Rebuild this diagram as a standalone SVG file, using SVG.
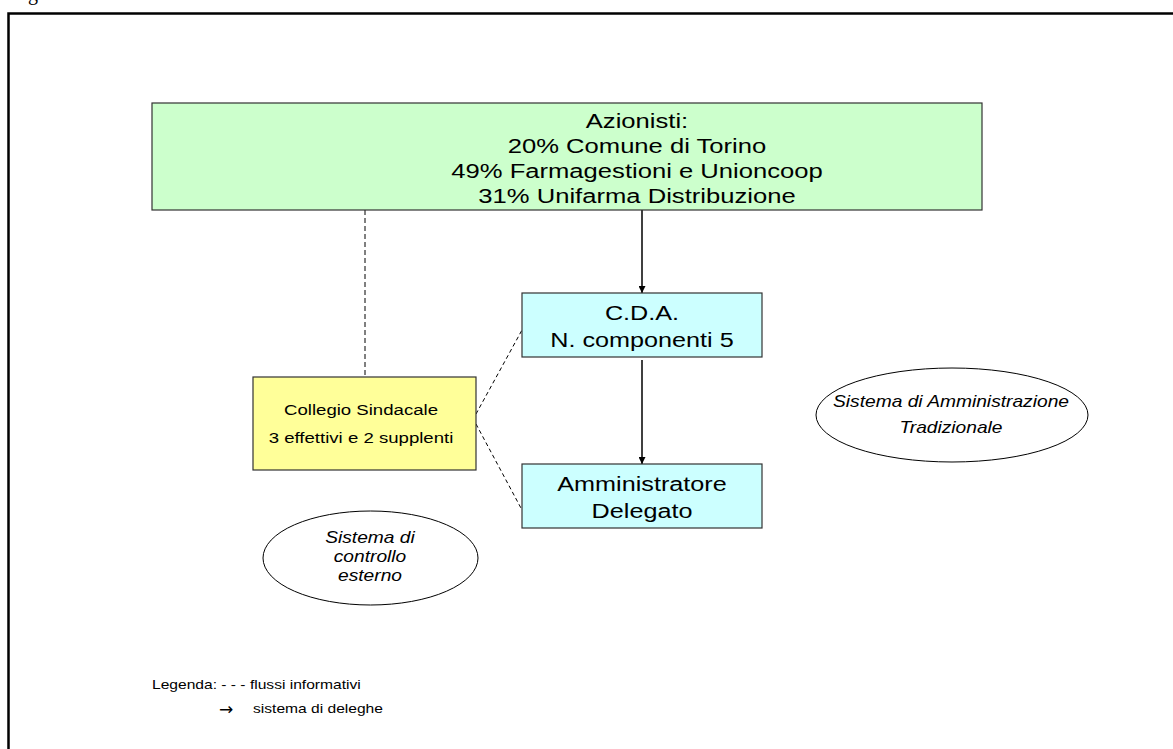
<svg xmlns="http://www.w3.org/2000/svg" width="1173" height="749" viewBox="0 0 1173 749">
<style>
.t{font-family:"Liberation Sans",Arial,sans-serif;fill:#000;text-anchor:middle}
.i{font-style:italic}
.box{stroke:#333;stroke-width:1.2}
.dash{stroke:#000;stroke-width:1;fill:none}
.ell{fill:#fff;stroke:#000;stroke-width:1}
</style>
<defs>
<marker id="ah" viewBox="0 0 10 10" refX="10" refY="5" markerWidth="7" markerHeight="7" markerUnits="userSpaceOnUse" orient="auto">
<path d="M0,0 L10,5 L0,10 Z" fill="#000"/>
</marker>
</defs>
<rect width="1173" height="749" fill="#fff"/>
<text x="28" y="0" font-family="Liberation Serif,serif" font-size="20">g</text>
<path d="M8.5,749 V13.5 H1173" fill="none" stroke="#000" stroke-width="2.5"/>

<g id="connectors">
<line class="dash" x1="365" y1="210" x2="365" y2="377" stroke-dasharray="5,3"/>
<line class="dash" x1="476" y1="414" x2="522" y2="330" stroke-dasharray="4,3"/>
<line class="dash" x1="476" y1="424" x2="522" y2="510" stroke-dasharray="4,3"/>
<line x1="642" y1="210" x2="642" y2="293" stroke="#000" stroke-width="1.5" marker-end="url(#ah)"/>
<line x1="642" y1="360" x2="642" y2="464" stroke="#000" stroke-width="1.5" marker-end="url(#ah)"/>
</g>

<g id="azionisti">
<rect class="box" x="152" y="103" width="830" height="107" fill="#CCFFCC"/>
<g class="t" font-size="21" transform="translate(637,0) scale(1.22,1)">
<text x="0" y="128">Azionisti:</text>
<text x="0" y="153">20% Comune di Torino</text>
<text x="0" y="178">49% Farmagestioni e Unioncoop</text>
<text x="0" y="203">31% Unifarma Distribuzione</text>
</g>
</g>

<g id="cda">
<rect class="box" x="522" y="293" width="240" height="64" fill="#CCFFFF"/>
<g class="t" font-size="21" transform="translate(642,0) scale(1.2,1)">
<text x="0" y="320">C.D.A.</text>
<text x="0" y="347">N. componenti 5</text>
</g>
</g>

<g id="ad">
<rect class="box" x="522" y="464" width="240" height="64" fill="#CCFFFF"/>
<g class="t" font-size="21" transform="translate(642,0) scale(1.2,1)">
<text x="0" y="491">Amministratore</text>
<text x="0" y="518">Delegato</text>
</g>
</g>

<g id="collegio">
<rect class="box" x="253" y="377" width="223" height="93" fill="#FFFF99"/>
<g class="t" font-size="15.5" transform="translate(361,0) scale(1.2,1)">
<text x="0" y="415">Collegio Sindacale</text>
<text x="0" y="443">3 effettivi e 2 supplenti</text>
</g>
</g>

<g id="amministrazione">
<ellipse class="ell" cx="952" cy="415" rx="136" ry="47"/>
<g class="t i" font-size="16" transform="translate(951,0) scale(1.2,1)">
<text x="0" y="407">Sistema di Amministrazione</text>
<text x="0" y="433">Tradizionale</text>
</g>
</g>

<g id="controllo">
<ellipse class="ell" cx="370.5" cy="558" rx="107.5" ry="47"/>
<g class="t i" font-size="16" transform="translate(370,0) scale(1.2,1)">
<text x="0" y="543">Sistema di</text>
<text x="0" y="562">controllo</text>
<text x="0" y="581">esterno</text>
</g>
</g>

<g id="legenda" font-family="Liberation Sans,Arial,sans-serif" font-size="13">
<text transform="translate(152,689) scale(1.2,1)" x="0" y="0">Legenda: - - - flussi informativi</text>
<text x="219" y="715" font-family="DejaVu Sans,sans-serif" font-size="17">→</text>
<text transform="translate(253,713) scale(1.2,1)" x="0" y="0">sistema di deleghe</text>
</g>
</svg>
